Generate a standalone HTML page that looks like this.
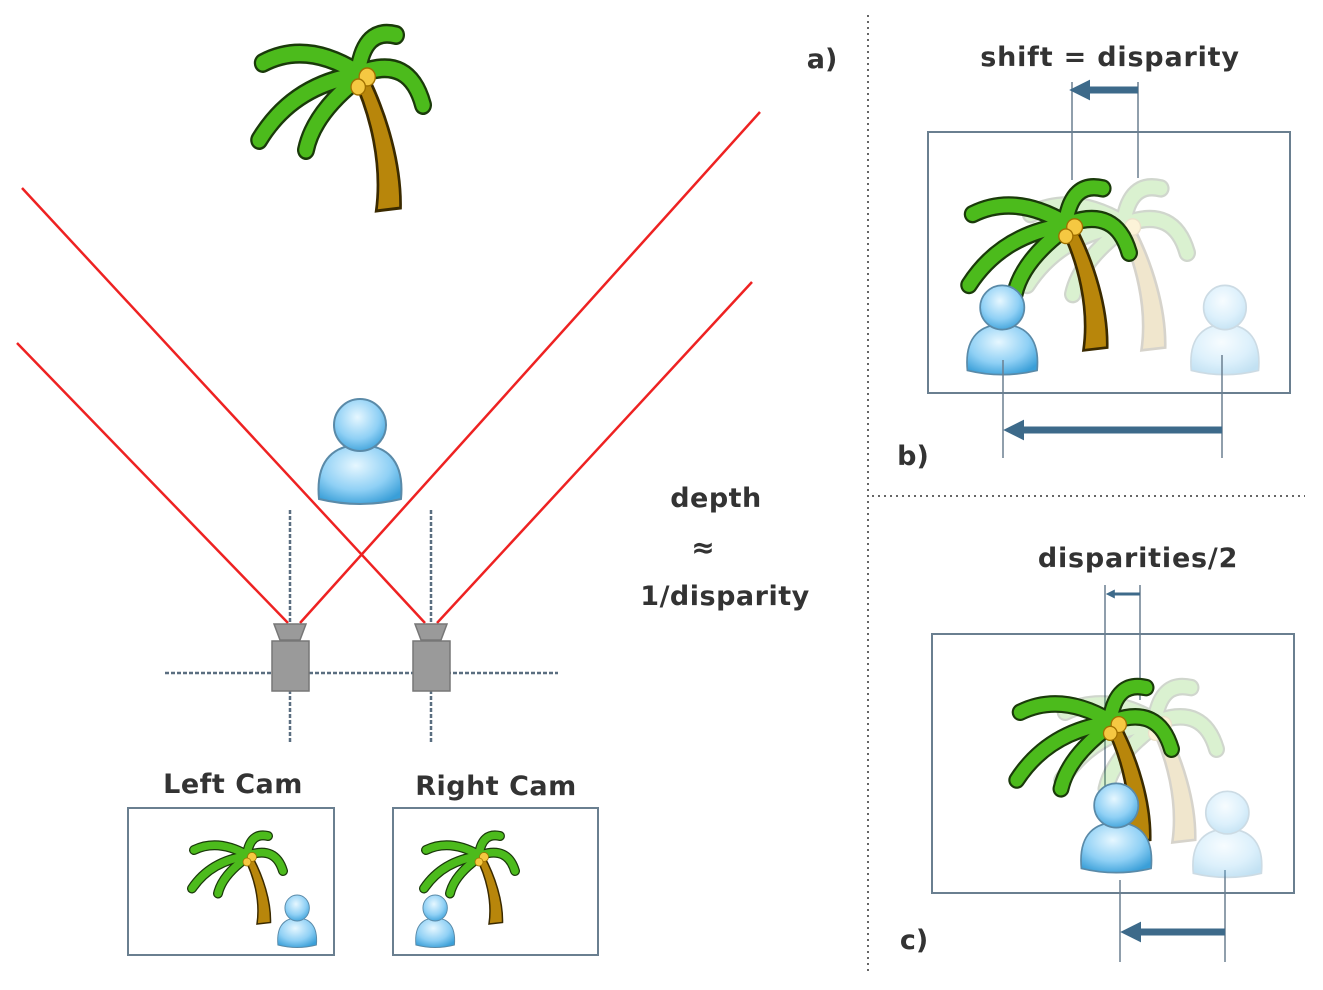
<!DOCTYPE html>
<html><head><meta charset="utf-8"><style>
html,body{margin:0;padding:0;background:#fff;}
svg{display:block;}
text{font-family:"DejaVu Sans","Liberation Sans",sans-serif;font-weight:bold;fill:#333;}
</style></head><body>
<svg width="1323" height="990" viewBox="0 0 1323 990" xmlns="http://www.w3.org/2000/svg">
<defs>
<radialGradient id="pg" cx="0.45" cy="0.35" r="0.7">
<stop offset="0" stop-color="#e6f7ff"/><stop offset="0.6" stop-color="#8fd0f5"/><stop offset="1" stop-color="#3a9fd8"/>
</radialGradient>
<g id="palm">
<path d="M112,62 C132,100 145,150 138,196 L165,193 C166,150 150,100 128,60 Z" fill="#b8860b" stroke="#3a2a00" stroke-width="3"/>
<g fill="none" stroke-linecap="round">
<g stroke="#1a3a0a" stroke-width="20">
<path d="M118,58 Q60,25 12,48"/><path d="M118,60 Q45,70 8,125"/><path d="M114,66 Q68,100 60,135"/>
<path d="M118,56 Q125,12 160,20"/><path d="M122,58 Q175,40 190,90"/>
</g>
<g stroke="#4cbb1c" stroke-width="15">
<path d="M118,58 Q60,25 12,48"/><path d="M118,60 Q45,70 8,125"/><path d="M114,66 Q68,100 60,135"/>
<path d="M118,56 Q125,12 160,20"/><path d="M122,58 Q175,40 190,90"/>
</g>
</g>
<circle cx="128" cy="62" r="9" fill="#f5c842" stroke="#a07000" stroke-width="1.5"/>
<circle cx="118" cy="72" r="8" fill="#f5c842" stroke="#a07000" stroke-width="1.5"/>
</g>
<g id="person">
<path d="M4,104 C0,62 22,50 45,50 C68,50 90,62 86,104 Q45,114 4,104 Z" fill="url(#pg)" stroke="#5a8aa8" stroke-width="2"/>
<circle cx="45" cy="30" r="26" fill="url(#pg)" stroke="#5a8aa8" stroke-width="2"/>
</g>
<marker id="ah" viewBox="0 0 10 10" refX="2" refY="5" markerWidth="3" markerHeight="3" orient="auto"><path d="M0,0 L10,5 L0,10 Z" fill="#3d6a8a"/></marker>
</defs>

<use href="#palm" transform="translate(252,15) scale(0.9,1)"/>

<g stroke="#ee2222" stroke-width="2.5">
<line x1="22" y1="188" x2="425" y2="623"/>
<line x1="760" y1="112" x2="300" y2="623"/>
<line x1="17" y1="343" x2="288" y2="623"/>
<line x1="752" y1="282" x2="437" y2="623"/>
</g>

<use href="#person" transform="translate(315,395)"/>

<g stroke="#5a6e80" stroke-width="2.5" stroke-dasharray="4,2">
<line x1="165" y1="673" x2="558" y2="673"/>
<line x1="290" y1="510" x2="290" y2="742"/>
<line x1="431" y1="510" x2="431" y2="742"/>
</g>
<g fill="#9a9a9a" stroke="#777" stroke-width="1.5">
<path d="M274,624 L306,624 L300,640 L280,640 Z"/><rect x="272" y="641" width="37" height="50"/>
<path d="M415,624 L447,624 L441,640 L421,640 Z"/><rect x="413" y="641" width="37" height="50"/>
</g>

<text x="233" y="793" font-size="27" text-anchor="middle" letter-spacing="0.5">Left Cam</text>
<text x="496" y="795" font-size="27" text-anchor="middle" letter-spacing="0.5">Right Cam</text>
<rect x="128" y="808" width="206" height="147" fill="none" stroke="#6a7f90" stroke-width="2"/>
<rect x="393" y="808" width="205" height="147" fill="none" stroke="#6a7f90" stroke-width="2"/>
<use href="#palm" transform="translate(188,826) scale(0.5,0.5)"/>
<use href="#person" transform="translate(276,893) scale(0.47,0.5)"/>
<use href="#palm" transform="translate(420,826) scale(0.5,0.5)"/>
<use href="#person" transform="translate(414,893) scale(0.47,0.5)"/>

<text x="716" y="507" font-size="27" text-anchor="middle" letter-spacing="0.5">depth</text>
<text x="703" y="557" font-size="28" text-anchor="middle">≈</text>
<text x="725" y="605" font-size="27" text-anchor="middle" letter-spacing="0.5">1/disparity</text>
<text x="822" y="68" font-size="27" text-anchor="middle">a)</text>

<g stroke="#666" stroke-width="2" stroke-dasharray="2,4">
<line x1="868" y1="15" x2="868" y2="975"/>
<line x1="872" y1="496" x2="1305" y2="496"/>
</g>

<text x="1110" y="66" font-size="27" text-anchor="middle" letter-spacing="0.8">shift = disparity</text>
<rect x="928" y="132" width="362" height="261" fill="none" stroke="#6a7f90" stroke-width="2"/>
<use href="#palm" transform="translate(1020,170) scale(0.88,0.92)" opacity="0.2"/>
<use href="#palm" transform="translate(962,170) scale(0.88,0.92)"/>
<use href="#person" transform="translate(1188,282) scale(0.82,0.85)" opacity="0.3"/>
<use href="#person" transform="translate(964,282) scale(0.85,0.85)"/>
<g stroke="#6a7f90" stroke-width="1.5">
<line x1="1072" y1="82" x2="1072" y2="180"/><line x1="1138" y1="82" x2="1138" y2="178"/>
<line x1="1003" y1="360" x2="1003" y2="458"/><line x1="1222" y1="355" x2="1222" y2="458"/>
<line x1="1105" y1="585" x2="1105" y2="790"/><line x1="1140" y1="585" x2="1140" y2="700"/>
<line x1="1120" y1="880" x2="1120" y2="962"/><line x1="1225" y1="870" x2="1225" y2="962"/>
</g>
<line x1="1138" y1="90" x2="1086" y2="90" stroke="#3d6a8a" stroke-width="7" marker-end="url(#ah)"/>
<line x1="1222" y1="430" x2="1020" y2="430" stroke="#3d6a8a" stroke-width="7" marker-end="url(#ah)"/>
<text x="913" y="465" font-size="27" text-anchor="middle">b)</text>

<text x="1138" y="567" font-size="27" text-anchor="middle" letter-spacing="0.8">disparities/2</text>
<rect x="932" y="634" width="362" height="259" fill="none" stroke="#6a7f90" stroke-width="2"/>
<use href="#palm" transform="translate(1055,670) scale(0.85,0.88)" opacity="0.2"/>
<use href="#palm" transform="translate(1010,670) scale(0.85,0.88)"/>
<use href="#person" transform="translate(1190,788) scale(0.83,0.82)" opacity="0.3"/>
<use href="#person" transform="translate(1078,780) scale(0.85,0.85)"/>
<line x1="1140" y1="594" x2="1113" y2="594" stroke="#3d6a8a" stroke-width="3" marker-end="url(#ah)"/>
<line x1="1225" y1="932" x2="1137" y2="932" stroke="#3d6a8a" stroke-width="7" marker-end="url(#ah)"/>
<text x="914" y="949" font-size="27" text-anchor="middle">c)</text>
</svg>
</body></html>
